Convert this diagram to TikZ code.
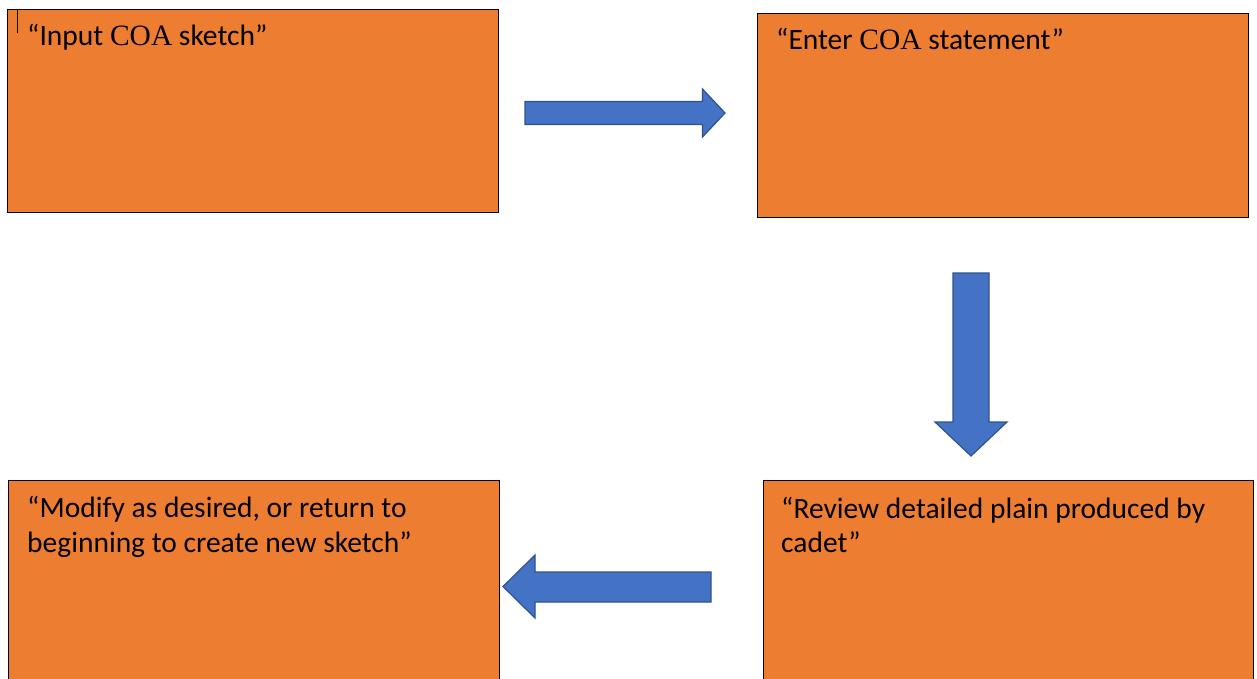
\documentclass[tikz,border=0pt]{standalone}
\usepackage{fontspec}
\setmainfont{Carlito}
\newfontfamily\serifcoa{Liberation Serif}
\definecolor{boxorange}{HTML}{ED7D31}
\definecolor{arrowblue}{HTML}{4472C4}
\definecolor{arrowedge}{HTML}{2F528F}
\tikzset{
  stepbox/.style={draw=black, line width=1.2pt, fill=boxorange, rectangle, inner sep=0pt, anchor=north west},
  boxtext/.style={anchor=base west, inner sep=0pt, font=\fontsize{29.5}{34}\selectfont, align=left},
  blockarrow/.style={fill=arrowblue, draw=arrowedge, line width=1.2pt, line join=miter}
}
\begin{document}
\begin{tikzpicture}[x=1pt,y=-1pt]
\useasboundingbox (0,0) rectangle (1257,679);
\fill[white] (0,0) rectangle (1257,679);
% boxes
\node[stepbox, minimum width=491pt, minimum height=203pt] (b1) at (7,9) {};
\node[stepbox, minimum width=491pt, minimum height=204pt] (b2) at (757,13) {};
\node[stepbox, minimum width=490pt, minimum height=205pt] (b3) at (763,480) {};
\node[stepbox, minimum width=491pt, minimum height=205pt] (b4) at (8,480) {};
% texts
\node[boxtext] (t1) at (27,46) {“Input {\serifcoa COA} sketch”};
\node[boxtext] (t2) at (776,50) {“Enter {\serifcoa COA} statement”};
\node[boxtext] (t3a) at (781,518) {“Review detailed plain produced by};
\node[boxtext] (t3b) at (781,552) {cadet”};
\node[boxtext] (t4a) at (27,517.5) {“Modify as desired, or return to};
\node[boxtext] (t4b) at (27,552) {beginning to create new sketch”};
% cursor mark
\draw[black, line width=0.8pt] (17,10) -- (17,33);
% arrows
\draw[blockarrow] (525,101.5) -- (702.5,101.5) -- (702.5,89) -- (725,113) -- (702.5,137) -- (702.5,124.5) -- (525,124.5) -- cycle;
\draw[blockarrow] (953,273) -- (989,273) -- (989,422) -- (1007,422) -- (971,456) -- (935,422) -- (953,422) -- cycle;
\draw[blockarrow] (711,572) -- (535,572) -- (535,555) -- (503,586.5) -- (535,618) -- (535,602) -- (711,602) -- cycle;
\end{tikzpicture}
\end{document}
